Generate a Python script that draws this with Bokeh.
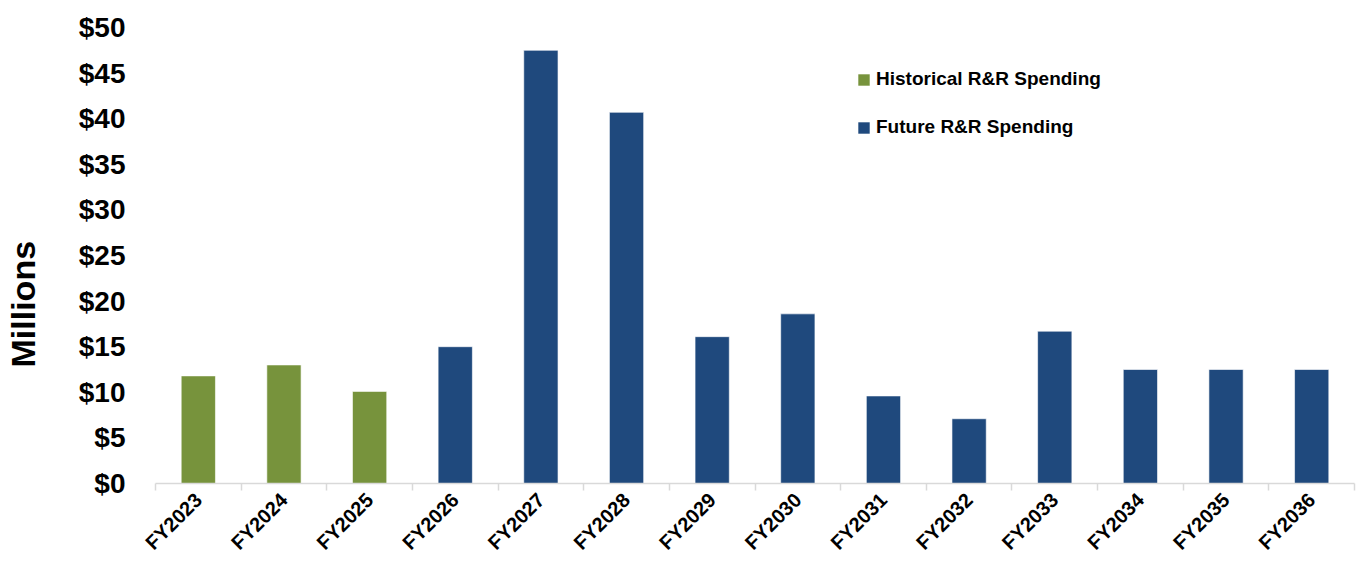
import math
from bokeh.plotting import figure
from bokeh.models import (ColumnDataSource, Range1d, LinearAxis, Title,
                          FixedTicker, PrintfTickFormatter, Legend, LegendItem)
from bokeh.embed import file_html
from bokeh.resources import INLINE

# ---- data ----
years = ["FY2023", "FY2024", "FY2025", "FY2026", "FY2027", "FY2028", "FY2029",
         "FY2030", "FY2031", "FY2032", "FY2033", "FY2034", "FY2035", "FY2036"]
hist_years = ["FY2023", "FY2024", "FY2025"]
hist_values = [11.8, 13.0, 10.1]
future_years = ["FY2026", "FY2027", "FY2028", "FY2029", "FY2030", "FY2031",
                "FY2032", "FY2033", "FY2034", "FY2035", "FY2036"]
future_values = [15.0, 47.5, 40.7, 16.1, 18.6, 9.6, 7.1, 16.7, 12.5, 12.5, 12.5]
y_ticks = [0, 5, 10, 15, 20, 25, 30, 35, 40, 45, 50]
series_names = ["Historical R&R Spending", "Future R&R Spending"]
y_title = "Millions"

GREEN = "#77933C"
BLUE = "#1F497D"
FONT = "Liberation Sans"

n = len(years)
centers = [i + 0.5 for i in range(n)]
pos = dict(zip(years, centers))

p = figure(width=1364, height=569, x_range=Range1d(0, n), y_range=Range1d(0, 50),
           output_backend="svg", toolbar_location=None, x_axis_location=None,
           min_border_left=155, min_border_right=10, min_border_top=27, min_border_bottom=86)
p.outline_line_color = None
p.background_fill_color = "white"
p.border_fill_color = "white"
p.xgrid.visible = False
p.ygrid.visible = False

src_h = ColumnDataSource(dict(x=[pos[y] for y in hist_years], top=hist_values))
src_f = ColumnDataSource(dict(x=[pos[y] for y in future_years], top=future_values))
r_h = p.vbar(x="x", top="top", width=0.4, source=src_h, fill_color=GREEN,
             line_color="white", line_alpha=0.6, line_width=1)
r_f = p.vbar(x="x", top="top", width=0.4, source=src_f, fill_color=BLUE,
             line_color="white", line_alpha=0.6, line_width=1)

# y axis
ya = p.yaxis[0]
ya.ticker = FixedTicker(ticks=y_ticks)
ya.formatter = PrintfTickFormatter(format="$%d")
ya.axis_line_color = None
ya.major_tick_line_color = None
ya.minor_tick_line_color = None
ya.major_label_text_font = FONT
ya.major_label_text_font_style = "bold"
ya.major_label_text_font_size = "28px"
ya.major_label_text_color = "black"
ya.major_label_standoff = 24

# spacer between tick labels and the y title
p.add_layout(Title(text=" ", text_font_size="12px", standoff=14), "left")

# y title, left of the tick labels and a little below centre
t = Title(text=y_title, align="left", vertical_align="middle", offset=116, standoff=5,
          text_font=FONT, text_font_style="bold", text_font_size="34px",
          text_color="black")
p.add_layout(t, "left")

# x axis: boundary ticks
tick_axis = LinearAxis(ticker=FixedTicker(ticks=list(range(n + 1))))
tick_axis.axis_line_color = "#D9D9D9"
tick_axis.axis_line_width = 1.5
tick_axis.major_tick_line_color = "#D9D9D9"
tick_axis.major_tick_line_width = 1.5
tick_axis.major_tick_out = 7
tick_axis.major_tick_in = 0
tick_axis.minor_tick_line_color = None
tick_axis.major_label_text_font_size = "1px"
tick_axis.major_label_text_color = None
tick_axis.major_label_standoff = 0
p.add_layout(tick_axis, "below")

# x axis: category labels
lab_axis = LinearAxis(ticker=FixedTicker(ticks=centers))
lab_axis.major_label_overrides = {c: y for c, y in zip(centers, years)}
lab_axis.axis_line_color = None
lab_axis.major_tick_line_color = None
lab_axis.minor_tick_line_color = None
lab_axis.major_label_orientation = math.pi / 4
lab_axis.major_label_text_font = FONT
lab_axis.major_label_text_font_style = "bold"
lab_axis.major_label_text_font_size = "20px"
lab_axis.major_label_text_color = "black"
lab_axis.major_label_standoff = 0
p.add_layout(lab_axis, "below")

legend = Legend(items=[LegendItem(label=series_names[0], renderers=[r_h]),
                       LegendItem(label=series_names[1], renderers=[r_f])],
                location=(701, 345), orientation="vertical")
legend.background_fill_alpha = 0
legend.border_line_color = None
legend.padding = 0
legend.margin = 0
legend.spacing = 26
legend.glyph_width = 15
legend.glyph_height = 15
legend.label_height = 20
legend.label_standoff = 5
legend.label_text_font = FONT
legend.label_text_font_style = "bold"
legend.label_text_font_size = "19px"
legend.label_text_color = "black"
p.add_layout(legend)

open("out.html", "w").write(file_html(p, INLINE))
